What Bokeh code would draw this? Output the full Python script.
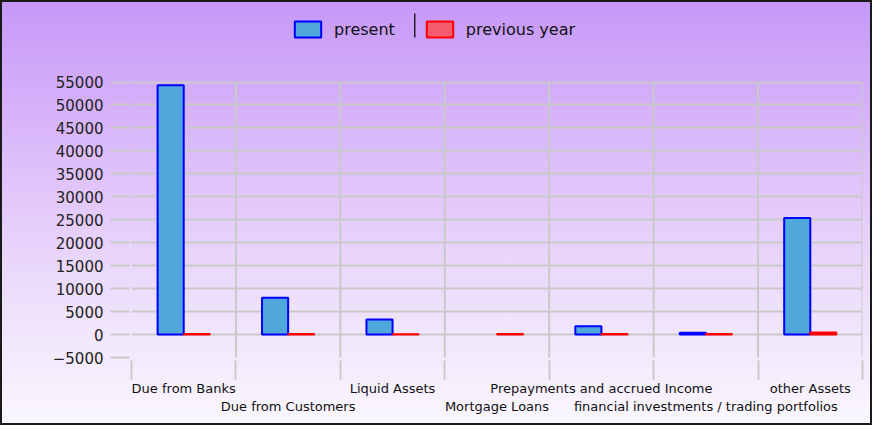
from bokeh.plotting import figure
from bokeh.models import (Range1d, FixedTicker, LinearAxis, Legend, LegendItem,
                          ColumnDataSource, CustomJSTickFormatter, BoxAnnotation)
from bokeh.transform import dodge
from bokeh.embed import file_html
from bokeh.resources import INLINE

# ---- data ----
categories = ["Due from Banks", "Due from Customers", "Liquid Assets", "Mortgage Loans",
              "Prepayments and accrued Income", "financial investments / trading portfolios",
              "other Assets"]
present = [54300, 8000, 3300, None, 1800, 400, 25400]
previous_year = [120, 110, 90, 100, 120, 100, 450]
y_ticks = [-5000, 0, 5000, 10000, 15000, 20000, 25000, 30000, 35000, 40000,
           45000, 50000, 55000]

idx = list(range(len(categories)))
boundaries = [i - 0.5 for i in idx] + [idx[-1] + 0.5]

src = ColumnDataSource(dict(idx=idx, present=[float("nan") if v is None else v for v in present],
                            previous=previous_year))

GRID = "#c9c9c9"
FONT = "DejaVu Sans"
BLANK = CustomJSTickFormatter(code="return ''")

# layout: the value axis spans 275.5 px; the frame is extended upwards to hold the legend
FRAME_H = 347
AXIS_PX = 275.5
y_end = y_ticks[0] + (y_ticks[-1] - y_ticks[0]) * FRAME_H / AXIS_PX

p = figure(width=872, height=425, output_backend="svg", toolbar_location=None,
           x_range=Range1d(boundaries[0], boundaries[-1]),
           y_range=Range1d(y_ticks[0], y_end),
           min_border_left=131, min_border_right=10, min_border_top=10,
           min_border_bottom=68)

p.styles = {"background": "linear-gradient(to bottom, #c698f8 0%, #d7b4f9 28%, #e3c9fa 48%, #eee1fb 72%, #faf7fe 100%)",
            "outline": "2px solid #1a1a1a", "outline-offset": "-2px"}
p.background_fill_alpha = 0
p.border_fill_alpha = 0
p.outline_line_color = None

# grids: horizontal lines from the y ticks, vertical lines at category boundaries
p.xgrid.grid_line_color = None
p.ygrid.ticker = FixedTicker(ticks=[t for t in y_ticks if t >= 0])
p.ygrid.grid_line_color = GRID
p.ygrid.grid_line_width = 2
p.segment(x0=boundaries[1:], x1=boundaries[1:], y0=y_ticks[0], y1=y_ticks[-1],
          line_color=GRID, line_width=2)

# y axis
ya = p.yaxis[0]
ya.ticker = FixedTicker(ticks=y_ticks)
ya.axis_line_color = None
ya.major_tick_line_color = GRID
ya.major_tick_line_width = 2
ya.major_tick_in = -2
ya.major_tick_out = 21
ya.minor_tick_line_color = None
ya.major_label_standoff = 7
ya.major_label_text_font = FONT
ya.major_label_text_font_size = "15px"
ya.major_label_text_color = "#222222"

# x axis: boundary ticks only
xa = p.xaxis[0]
xa.ticker = FixedTicker(ticks=boundaries)
xa.formatter = BLANK
xa.axis_line_color = None
xa.major_tick_line_color = GRID
xa.major_tick_line_width = 2
xa.major_tick_in = -3
xa.major_tick_out = 22
xa.minor_tick_line_color = None
xa.major_label_standoff = 0

def label_axis(ticks, standoff):
    ax = LinearAxis(ticker=FixedTicker(ticks=ticks),
                    major_label_overrides={i: categories[i] for i in ticks},
                    axis_line_color=None, major_tick_line_color=None,
                    minor_tick_line_color=None, major_tick_in=0, major_tick_out=0,
                    major_label_standoff=standoff,
                    major_label_text_font=FONT, major_label_text_font_size="13px",
                    major_label_text_color="#111111")
    p.add_layout(ax, "below")

label_axis(idx[0::2], 1)
label_axis(idx[1::2], 0)

# bars
r1 = p.vbar(x=dodge("idx", -0.125, range=p.x_range), top="present", width=0.25,
            source=src, fill_color="#50a7dc", line_color="#0000ff", line_width=2)
r2 = p.vbar(x=dodge("idx", 0.125, range=p.x_range), top="previous", width=0.25,
            source=src, fill_color="#f55c6d", line_color="#ff0000", line_width=2)

legend = Legend(items=[LegendItem(label="present", renderers=[r1]),
                       LegendItem(label="previous year", renderers=[r2])],
                orientation="horizontal", location=(160, 318),
                glyph_width=33, glyph_height=20, label_height=20,
                label_standoff=10, spacing=28, padding=0, margin=0,
                border_line_color=None, background_fill_alpha=0,
                label_text_font=FONT, label_text_font_size="16px",
                label_text_color="#111111")
p.add_layout(legend)

# thin separator between the two legend entries (screen units, from frame bottom-left)
p.add_layout(BoxAnnotation(left=282.5, right=284, bottom=320, top=344,
                           left_units="screen", right_units="screen",
                           bottom_units="screen", top_units="screen",
                           fill_color="#222222", fill_alpha=1, line_color=None))

file = open("out.html", "w")
file.write(file_html(p, INLINE))
file.close()
